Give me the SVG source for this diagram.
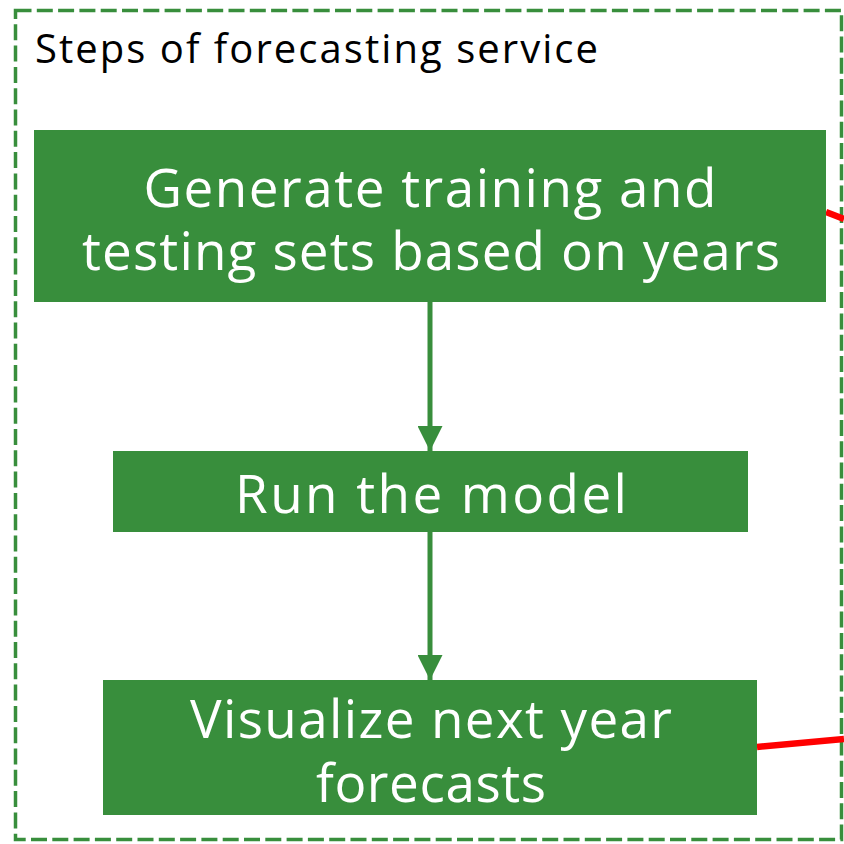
<svg xmlns="http://www.w3.org/2000/svg" width="844" height="844" viewBox="0 0 844 844">
<defs>
<style>
.box{fill:#388e3c;}
.lbl{font-family:"Open Sans","DejaVu Sans",sans-serif;fill:#ffffff;font-size:53px;text-anchor:middle;}
.title{font-family:"Open Sans","DejaVu Sans",sans-serif;fill:#000000;font-size:40px;}
.arrow{stroke:#388e3c;stroke-width:5;fill:none;}
.red{stroke:#ff0000;stroke-width:6.5;fill:none;}
</style>
<marker id="ah" viewBox="0 0 10 10" refX="10" refY="5" markerWidth="5" markerHeight="5" markerUnits="strokeWidth" orient="auto">
<path d="M0,0 L10,5 L0,10 z" fill="#388e3c"/>
</marker>
</defs>
<rect width="844" height="844" fill="#ffffff"/>
<g id="container">
<rect x="15.5" y="10.5" width="826" height="829" fill="none" stroke="#388e3c" stroke-width="3.5" stroke-dasharray="16 5.3"/>
<text class="title" x="35" y="63" textLength="563">Steps of forecasting service</text>
</g>
<g id="connectors">
<line class="arrow" x1="430" y1="302" x2="430" y2="451" marker-end="url(#ah)"/>
<line class="arrow" x1="430" y1="532" x2="430" y2="680" marker-end="url(#ah)"/>
<line class="red" x1="826" y1="212" x2="844" y2="219"/>
<line class="red" x1="757" y1="747" x2="844" y2="739"/>
</g>
<g id="node-generate">
<rect class="box" x="34" y="130" width="792" height="172"/>
<text class="lbl" x="430" y="207" textLength="573">Generate training and</text>
<text class="lbl" x="431" y="270" textLength="698">testing sets based on years</text>
</g>
<g id="node-run">
<rect class="box" x="113" y="451" width="635" height="81"/>
<text class="lbl" x="431" y="513" textLength="392">Run the model</text>
</g>
<g id="node-visualize">
<rect class="box" x="103" y="680" width="654" height="135"/>
<text class="lbl" x="431" y="738" textLength="482">Visualize next year</text>
<text class="lbl" x="431" y="802" textLength="230">forecasts</text>
</g>
</svg>
